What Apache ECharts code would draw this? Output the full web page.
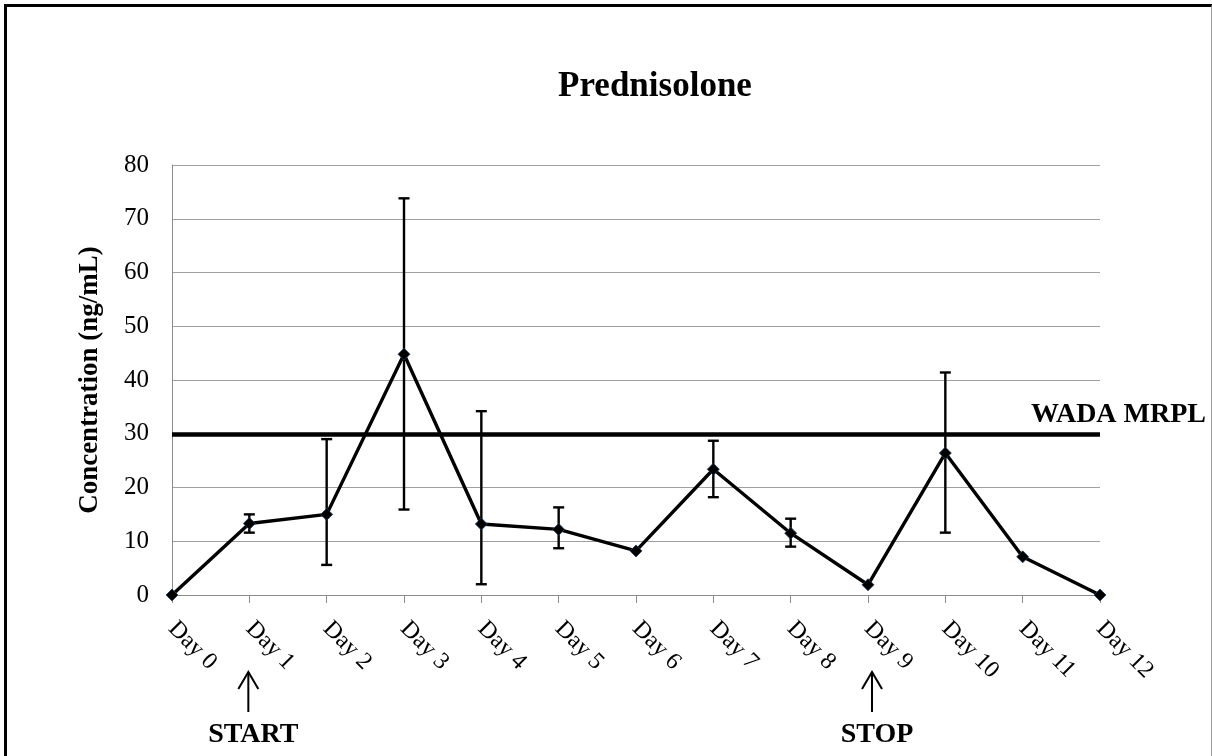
<!DOCTYPE html>
<html>
<head>
<meta charset="utf-8">
<script src="https://cdn.jsdelivr.net/npm/echarts@6/dist/echarts.min.js"></script>
<style>
  html, body { margin: 0; padding: 0; background: #fff; }
  #frame { position: absolute; left: 4px; top: 4px; width: 1204px; height: 760px;
           border-left: 3px solid #000; border-top: 3px solid #000; border-right: 1px solid #999; }
  #chart { position: absolute; left: 0; top: 0; width: 1212px; height: 756px; }
</style>
</head>
<body>
<div id="frame"></div>
<div id="chart"></div>
<script>
// ---- data ----
const days = ['Day 0','Day 1','Day 2','Day 3','Day 4','Day 5','Day 6','Day 7','Day 8','Day 9','Day 10','Day 11','Day 12'];
const meanConc = [0, 13.3, 15.0, 44.8, 13.2, 12.2, 8.2, 23.4, 11.5, 1.9, 26.4, 7.1, 0];
const errHigh  = [null, 15.0, 29.0, 73.8, 34.2, 16.3, null, 28.7, 14.2, null, 41.4, null, null];
const errLow   = [null, 11.6, 5.6, 15.9, 2.0, 8.7, null, 18.2, 9.0, null, 11.6, null, null];
const yTicks = [0, 10, 20, 30, 40, 50, 60, 70, 80];
const wadaLimit = 30;
const wadaLabel = 'WADA MRPL';
const events = [ { day: 'Day 1', text: 'START' }, { day: 'Day 9', text: 'STOP' } ];
const titleText = 'Prednisolone';
const yName = 'Concentration (ng/mL)';

const FONT = '"Liberation Serif", "Times New Roman", serif';

const errData = [];
days.forEach((d, i) => { if (errHigh[i] != null) errData.push([i, errLow[i], errHigh[i]]); });

const chart = echarts.init(document.getElementById('chart'), null, { renderer: 'canvas' });

const option = {
  animation: false,
  backgroundColor: 'transparent',
  title: {
    text: titleText, left: 650, top: 64, textAlign: 'center',
    textStyle: { fontFamily: FONT, fontSize: 35, fontWeight: 'bold', color: '#000' }
  },
  grid: { left: 172, right: 112, top: 165, bottom: 161, containLabel: false },
  xAxis: {
    type: 'category', data: days, boundaryGap: false,
    axisLine: { lineStyle: { color: '#8c8c8c', width: 1 } },
    axisTick: { show: true, length: 8, alignWithLabel: true, lineStyle: { color: '#8c8c8c' } },
    axisLabel: { rotate: -45, margin: 30, fontFamily: FONT, fontSize: 24, color: '#000', interval: 0 },
    splitLine: { show: false }
  },
  yAxis: {
    type: 'value', min: yTicks[0], max: yTicks[yTicks.length - 1], interval: yTicks[1] - yTicks[0],
    name: yName, nameLocation: 'middle', nameGap: 68, nameRotate: 90,
    nameTextStyle: { fontFamily: FONT, fontSize: 27, fontWeight: 'bold', color: '#000' },
    axisLine: { show: true, lineStyle: { color: '#8c8c8c', width: 1 } },
    axisTick: { show: false },
    axisLabel: { margin: 23, fontFamily: FONT, fontSize: 25, color: '#000' },
    splitLine: { show: true, lineStyle: { color: '#a0a0a0', width: 1 } }
  },
  series: [
    {
      type: 'custom', name: 'error', data: errData, z: 3,
      renderItem: function (params, api) {
        const x = api.value(0);
        const lo = api.coord([x, api.value(1)]);
        const hi = api.coord([x, api.value(2)]);
        const hw = 5.5;
        const st = { stroke: '#000', lineWidth: 2.4 };
        return {
          type: 'group',
          children: [
            { type: 'line', shape: { x1: lo[0], y1: lo[1], x2: hi[0], y2: hi[1] }, style: st },
            { type: 'line', shape: { x1: lo[0] - hw, y1: lo[1], x2: lo[0] + hw, y2: lo[1] }, style: st },
            { type: 'line', shape: { x1: hi[0] - hw, y1: hi[1], x2: hi[0] + hw, y2: hi[1] }, style: st }
          ]
        };
      }
    },
    {
      type: 'line', name: 'Prednisolone', data: meanConc, z: 4,
      symbol: 'diamond', symbolSize: 12, showSymbol: true,
      lineStyle: { color: '#000', width: 3.4 },
      itemStyle: { color: '#000', borderColor: '#1f3a5f', borderWidth: 0.8 },
      markLine: {
        silent: true, symbol: ['none', 'none'],
        lineStyle: { color: '#000', width: 4.5, type: 'solid' },
        label: { show: false },
        data: [{ yAxis: wadaLimit }]
      }
    }
  ]
};
chart.setOption(option);

// annotations positioned through the chart's own scales
const g = [];
const end = chart.convertToPixel({ gridIndex: 0 }, [days.length - 1, wadaLimit]);
g.push({
  type: 'text', x: end[0] + 106, y: end[1] - 19,
  style: { text: wadaLabel, fontFamily: FONT, fontSize: 28, fontWeight: 'bold', fill: '#000',
           align: 'right', verticalAlign: 'middle' }
});
const base = chart.convertToPixel({ gridIndex: 0 }, [0, 0]);
events.forEach(ev => {
  const p = chart.convertToPixel({ gridIndex: 0 }, [days.indexOf(ev.day), 0]);
  const ax = p[0] + (ev.text === 'STOP' ? 4 : -1);
  const tipY = base[1] + 77, botY = base[1] + 117;
  const st = { stroke: '#000', lineWidth: 2 };
  g.push({ type: 'line', shape: { x1: ax, y1: tipY, x2: ax, y2: botY }, style: st });
  g.push({ type: 'polyline', shape: { points: [[ax - 10, tipY + 17], [ax, tipY], [ax + 10, tipY + 17]] }, style: Object.assign({ fill: null }, st) });
  g.push({
    type: 'text', x: ax + 5, y: base[1] + 140,
    style: { text: ev.text, fontFamily: FONT, fontSize: 28, fontWeight: 'bold', fill: '#000',
             align: 'center', verticalAlign: 'middle' }
  });
});
chart.setOption({ graphic: g });
</script>
</body>
</html>
